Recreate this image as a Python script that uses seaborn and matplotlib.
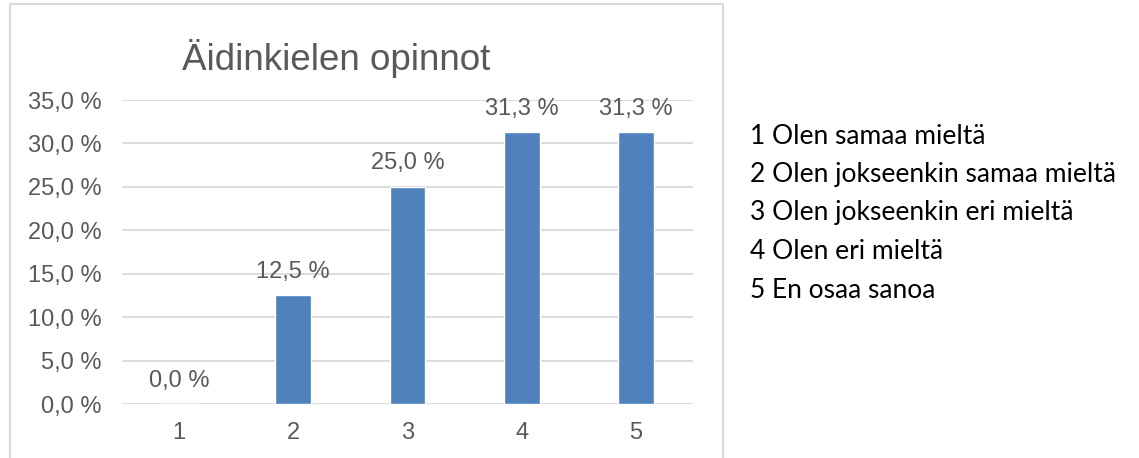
import matplotlib
matplotlib.use('Agg')
import matplotlib.pyplot as plt
import seaborn as sns
import pandas as pd
from matplotlib.patches import Rectangle

categories = ['1', '2', '3', '4', '5']
values = [0.0, 12.5, 25.0, 31.3, 31.3]
legend_lines = ['1 Olen samaa mieltä',
                '2 Olen jokseenkin samaa mieltä',
                '3 Olen jokseenkin eri mieltä',
                '4 Olen eri mieltä',
                '5 En osaa sanoa']
title = 'Äidinkielen opinnot'

sns.set_style('white')
plt.rcParams['font.family'] = ['Liberation Sans', 'DejaVu Sans']

df = pd.DataFrame({'cat': categories, 'val': values})

fig = plt.figure(figsize=(11.39, 4.58), dpi=100)
ax = fig.add_axes([122 / 1139, 1 - 404 / 458, 571 / 1139, 304 / 458])

sns.barplot(data=df, x='cat', y='val', color='#4F81BD', saturation=1,
            width=0.315, ax=ax, zorder=3)

ax.set_ylim(0, 35)
ax.set_xlim(-0.5, 4.5)
ax.set_yticks(range(0, 36, 5))
ax.set_yticklabels([f'{v},0 %' for v in range(0, 36, 5)])
ax.grid(axis='y', color='#D9D9D9', linewidth=1.3, zorder=0)
for s in ax.spines.values():
    s.set_visible(False)
ax.tick_params(axis='both', length=0, colors='#595959', labelsize=17)
ax.tick_params(axis='y', pad=15)
ax.tick_params(axis='x', pad=13)
ax.set_xlabel('')
ax.set_ylabel('')

for i, v in enumerate(values):
    ax.annotate(f'{v:.1f} %'.replace('.', ','), (i, v), xytext=(0, 9),
                textcoords='offset points', ha='center', va='bottom',
                fontsize=17, color='#595959')

fig.text(336.5 / 1139, 1 - 58 / 458, title, ha='center', va='center',
         fontsize=26.5, color='#595959')

# chart frame
fig.patches.append(Rectangle((10 / 1139, -0.1), 713 / 1139, 1.1 - 4 / 458,
                             transform=fig.transFigure, fill=False,
                             edgecolor='#D9D9D9', linewidth=1.5))

for k, line in enumerate(legend_lines):
    fig.text(750 / 1139, 1 - (136 + 38.5 * k) / 458, line, ha='left',
             va='center', fontsize=19, color='black', family=['Lato', 'DejaVu Sans'])

fig.savefig('out.png', dpi=100)
